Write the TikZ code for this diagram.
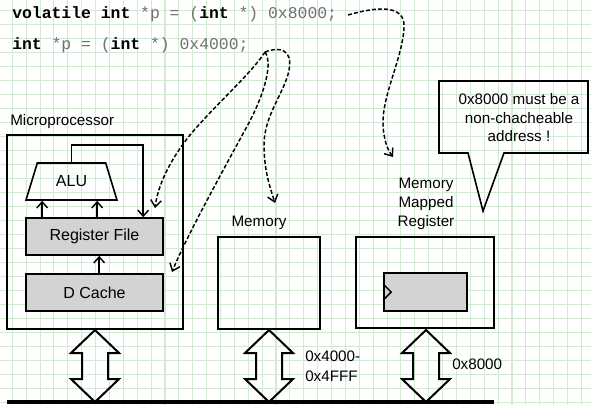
\documentclass[tikz,border=0pt]{standalone}
\usepackage{fontspec}
\setmainfont{Liberation Sans}
\setmonofont{Liberation Mono}
\usetikzlibrary{arrows.meta,shapes.geometric,calc}
\definecolor{gridgreen}{RGB}{210,234,210}
\definecolor{boxgray}{RGB}{211,211,211}
\definecolor{codegray}{RGB}{112,112,112}
\def\u{0.75pt}
\begin{document}
\begin{tikzpicture}[x=0.75pt,y=-0.75pt,
  gridline/.style={draw=gridgreen,line width=0.8pt},
  frame/.style={draw,line width=1.5pt,inner sep=0},
  graybox/.style={draw,line width=1.2pt,fill=boxgray,inner sep=0,
    minimum width=137*\u,minimum height=37*\u,font=\fontsize{12}{14}\selectfont},
  lbl/.style={font=\fontsize{11.4}{14.2}\selectfont,inner sep=0,align=center},
  code/.style={font=\fontsize{12.3}{14}\selectfont\ttfamily,inner sep=0,anchor=base west},
  flow/.style={line width=1.1pt,-{Straight Barb[length=4.5pt,width=8pt]}},
  ptr/.style={line width=1.1pt,dash pattern=on 3pt off 1.6pt,
    -{Straight Barb[length=5pt,width=8pt]}},
  busarrow/.style={draw,line width=1.5pt,line join=miter,fill=white,fill opacity=0},
  bus/.style={line width=2.3pt}]
\useasboundingbox (0,0) rectangle (591,405);
\fill[white] (0,0) rectangle (591,405);

% squared paper
\foreach \i in {0,...,41} \draw[gridline] ({12.3+13.88*\i},0) -- ({12.3+13.88*\i},405);
\foreach \j in {0,...,28} \draw[gridline] (0,{10.7+14*\j}) -- (591,{10.7+14*\j});

% C declarations
\node[code] (c1) at (12,18.5) {\textbf{volatile int} \textcolor{codegray}{*p = (}\textbf{int} \textcolor{codegray}{*) 0x8000;}};
\node[code] (c2) at (12,49.5) {\textbf{int} \textcolor{codegray}{*p = (}\textbf{int} \textcolor{codegray}{*) 0x4000;}};

% microprocessor
\node[lbl,anchor=west] (mplbl) at (10,122) {Microprocessor};
\node[frame,minimum width=176*\u,minimum height=194*\u] (mp) at (95,232) {};
\node[trapezium,draw,line width=1.2pt,inner sep=0,trapezium stretches=true,
  trapezium angle=65.3,minimum width=91*\u,minimum height=37*\u,
  font=\fontsize{12}{14}\selectfont] (alu) at (71.5,181.5) {ALU};
\node[graybox] (rf) at (94.5,236.5) {Register File};
\node[graybox] (dc) at (94.5,292.5) {D Cache};

\draw[flow] (alu.north) -- ++(0,-17) -| ($(rf.north west)+(118,0)$);
\draw[flow] ($(rf.north west)+(17,0)$) coordinate (r1) -- (r1 |- alu.south);
\draw[flow] ($(rf.north west)+(72,0)$) coordinate (r2) -- (r2 |- alu.south);
\draw[flow] ($(dc.north west)+(74,0)$) coordinate (d1) -- (d1 |- rf.south);

% memory
\node[lbl] (memlbl) at (259,223) {Memory};
\node[frame,minimum width=102*\u,minimum height=92*\u] (mem) at (269,283) {};

% memory mapped register
\node[lbl] (mmrlbl) at (426,204) {Memory\\Mapped\\Register};
\node[frame,minimum width=138*\u,minimum height=91*\u] (mmr) at (425,282.5) {};
\node[draw,line width=1.2pt,fill=boxgray,inner sep=0,minimum width=83*\u,
  minimum height=38*\u] (reg) at (425.5,292) {};
\draw[line width=1.1pt] ($(reg.west)+(0,-8)$) -- ($(reg.west)+(8,0)$) -- ($(reg.west)+(0,8)$);

% callout
\draw[line width=1.2pt,line join=miter] (439,81) -- (588,81) -- (588,153) -- (504,153)
  -- (483,211) -- (468,153) -- (439,153) -- cycle;
\node[lbl,font=\fontsize{11.4}{13.9}\selectfont] (note) at (519,118)
  {0x8000 must be a\\non-chacheable\\address !};

% bus and its two-way connections
\coordinate (busL) at (7,402);
\coordinate (busR) at (494,402);
\draw[bus] (busL) -- (busR);
\foreach \c/\x in {a1/95,a2/269,a3/426}{
  \coordinate (\c) at (\x,366);
  \draw[busarrow] ($(\c)+(0,-36)$) -- ++(24,23) -- ++(-11,0) -- ++(0,26) -- ++(11,0)
    -- ++(-24,23) -- ++(-24,-23) -- ++(11,0) -- ++(0,-26) -- ++(-11,0) -- cycle;
}
\node[lbl,anchor=west,align=left,font=\fontsize{11.4}{15}\selectfont] (rng) at (305,366) {0x4000-\\0x4FFF};
\node[lbl,anchor=west] (adr) at (452,364) {0x8000};

% where the pointers point
\coordinate (s8) at (348,15);
\coordinate (s4) at (265,52);
\coordinate (tMMR) at (393,157);
\coordinate (tRF) at (155,208);
\coordinate (tDC) at (172,272);
\coordinate (tMem) at (275,203);
\draw[ptr] (s8) .. controls (372,8) and (406,2) .. (404,28)
  .. controls (402,60) and (382,95) .. (383,125)
  .. controls (384,142) and (388,150) .. (tMMR);
\draw[ptr] (s4) .. controls (250,75) and (215,105) .. (190,135)
  .. controls (170,160) and (158,185) .. (tRF);
\draw[ptr] (s4) .. controls (274,65) and (262,100) .. (245,130)
  .. controls (215,185) and (185,240) .. (tDC);
\draw[ptr] (s4) .. controls (280,46) and (293,50) .. (289,70)
  .. controls (285,92) and (264,115) .. (264,145)
  .. controls (264,172) and (271,190) .. (tMem);
\end{tikzpicture}
\end{document}
